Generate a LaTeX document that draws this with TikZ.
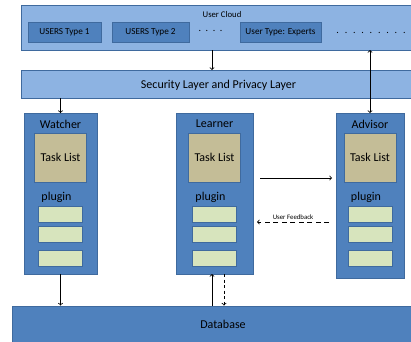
\documentclass[tikz,border=0pt]{standalone}
\usepackage{fontspec}
\setmainfont{Carlito}
\usepackage{xcolor}
\usepackage{tikz}
\usetikzlibrary{positioning}
\definecolor{cloudblue}{HTML}{8DB3E2}
\definecolor{midblue}{HTML}{4F81BD}
\definecolor{edgeblue}{HTML}{3F6A9E}
\definecolor{tasktan}{HTML}{C4BD97}
\definecolor{plugingreen}{HTML}{D7E4BD}
\tikzstyle{layer}=[draw=edgeblue, fill=cloudblue, line width=1pt, inner sep=0pt, outer sep=0pt]
\tikzstyle{usrbox}=[draw=edgeblue, fill=midblue, line width=1pt, inner sep=0pt,
  minimum height=20pt, font=\fontsize{9.2}{10}\selectfont]
\tikzstyle{agent}=[draw=edgeblue, fill=midblue, line width=1pt, inner sep=0pt, outer sep=0pt,
  minimum width=73pt, minimum height=161pt]
\tikzstyle{tasklist}=[draw=edgeblue, fill=tasktan, line width=1pt, inner sep=0pt,
  minimum width=52pt, minimum height=49pt, font=\fontsize{12}{13}\selectfont]
\tikzstyle{plugbox}=[draw=edgeblue, fill=plugingreen, line width=1pt, inner sep=0pt,
  minimum width=44pt, minimum height=16pt]
\tikzstyle{bigtext}=[inner sep=0pt, font=\fontsize{12}{13}\selectfont]
\tikzstyle{flow}=[->, line width=0.8pt]

\begin{document}
\begin{tikzpicture}[x=1pt, y=-1pt]
\useasboundingbox (0,0) rectangle (411,341);
\clip (0,0) rectangle (411,341);

% user cloud
\node[layer, minimum width=397pt, minimum height=45pt] (cloud) at (219.5,27.5) {};
\node[inner sep=0pt, font=\fontsize{8.7}{10}\selectfont] (cloudname) at (222,15) {User Cloud};
\node[usrbox, minimum width=73pt] (usr1) at (64.5,32) {USERS Type 1};
\node[usrbox, minimum width=77pt] (usr2) at (150.5,32) {USERS Type 2};
\node[inner sep=0pt] (dotsa) at (210.5,31) {.\ \ .\ \ .\ \ .};
\node[usrbox, minimum width=81pt] (expert) at (280.5,32) {User Type: Experts};
\node[inner sep=0pt] (dotsb) at (371,33)
  {.\hspace{5.8pt}.\hspace{5.8pt}.\hspace{5.8pt}.\hspace{5.8pt}.\hspace{5.8pt}.\hspace{5.8pt}.\hspace{5.8pt}.\hspace{5.8pt}.};

% security layer
\node[layer, minimum width=397pt, minimum height=28pt] (sec) at (219.5,84) {};
\node[bigtext] (secname) at (218.5,85) {Security Layer and Privacy Layer};

% agents
\node[agent] (watcher) at (60.5,193.5) {};
\node[agent, minimum width=77pt] (learner) at (214.5,193.5) {};
\node[agent, minimum width=68pt, minimum height=165pt] (advisor) at (370,195.5) {};

\foreach \a/\t in {watcher/Watcher, learner/Learner, advisor/Advisor} {
  \node[bigtext] (\a-name) at (\a.center |- 0,124) {\t};
  \node[tasklist] (\a-task) at (\a.center |- 0,157.5) {Task List};
  \node[bigtext, xshift=-4pt] (\a-plugin) at (\a.center |- 0,197) {plugin};
  \foreach \y [count=\i] in {214,234,258}
    \node[plugbox] (\a-plug\i) at (\a.center |- 0,\y) {};
}

% database
\node[draw=edgeblue, fill=midblue, line width=1pt, minimum width=410pt, minimum height=45pt,
  inner sep=0pt] (db) at (217,328.5) {};
\node[bigtext] (dbname) at (223,324) {Database};

% connectors
\draw[flow] ([xshift=-2.5pt]cloud.south -| learner) -- ([xshift=-2.5pt]sec.north -| learner);
\draw[flow, <->] (cloud.south -| advisor) -- (advisor.north);
\draw[flow] (sec.south -| watcher) -- (watcher.north);
\draw[flow] (watcher.south) -- (db.north -| watcher);
\draw[flow] ([xshift=7pt, yshift=15.5pt]learner.east) -- ([xshift=-4pt, yshift=17.5pt]advisor.west);
\draw[flow, dash pattern=on 5pt off 3.5pt] ([xshift=-7pt, yshift=-26.5pt]advisor.west)
  -- node[above=2pt, inner sep=0pt, font=\fontsize{6.8}{7}\selectfont] (fbname) {User Feedback}
  ([xshift=4pt, yshift=-28.5pt]learner.east);
\draw[flow] ([xshift=-2.5pt]db.north -| learner) -- ([xshift=-2.5pt]learner.south);
\draw[flow, dash pattern=on 3pt off 2.5pt] ([xshift=9.5pt]learner.south) -- ([xshift=9.5pt]db.north -| learner);
\end{tikzpicture}
\end{document}
